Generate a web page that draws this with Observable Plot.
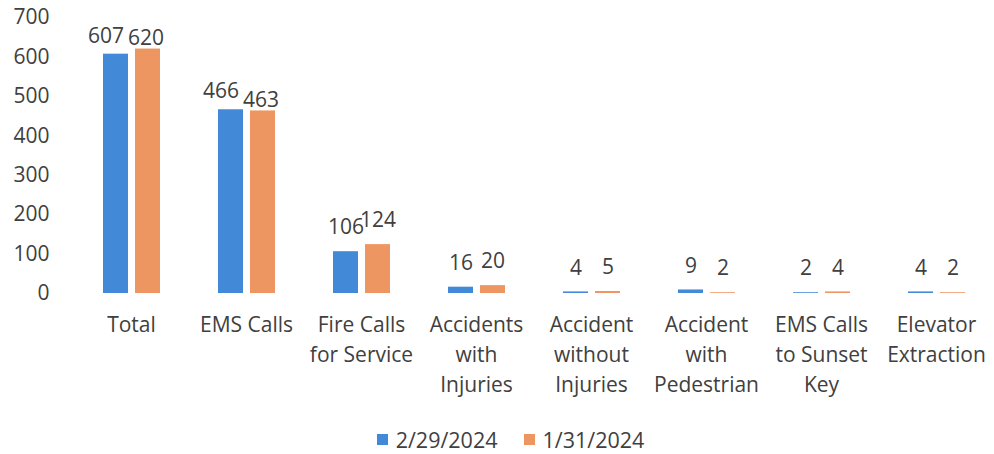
<!DOCTYPE html>
<html>
<head>
<meta charset="utf-8">
<script src="https://cdn.jsdelivr.net/npm/d3@7"></script>
<script src="https://cdn.jsdelivr.net/npm/@observablehq/plot@0.6"></script>
<style>
  html, body { margin: 0; padding: 0; background: #fff; }
  body { width: 994px; height: 454px; overflow: hidden; font-family: "Open Sans", Lato, sans-serif; color: #404040; }
  #chart svg { display: block; }
  #legend { display: flex; justify-content: center; align-items: center; gap: 26px; font-size: 21.5px; height: 36px; margin-left: 27px; margin-top: 11px; }
  #legend span.item { display: flex; align-items: center; }
  #legend span.sw { display: inline-block; width: 11px; height: 11px; margin-right: 8px; }
</style>
</head>
<body>
<div id="chart"></div>
<div id="legend"></div>
<script>
const categories = ["Total", "EMS Calls", "Fire Calls\nfor Service", "Accidents\nwith\nInjuries", "Accident\nwithout\nInjuries", "Accident\nwith\nPedestrian", "EMS Calls\nto Sunset\nKey", "Elevator\nExtraction"];
const seriesNames = ["2/29/2024", "1/31/2024"];
const feb2024 = [607, 466, 106, 16, 4, 9, 2, 4];
const jan2024 = [620, 463, 124, 20, 5, 2, 4, 2];
const seriesColors = ["#428ad8", "#ee9662"];
const yTicks = [0, 100, 200, 300, 400, 500, 600, 700];

const data = [];
categories.forEach((c, i) => {
  data.push({category: c, series: seriesNames[0], value: feb2024[i]});
  data.push({category: c, series: seriesNames[1], value: jan2024[i]});
});

const textColor = "#404040";
const font = "'Open Sans', Lato, sans-serif";
const big = d => d.value >= 300;
const labelOpts = {fx: "category", x: "series", y: "value", text: d => String(d.value), fontSize: 21, fill: textColor};
const chart = Plot.plot({
  width: 994,
  height: 410,
  marginLeft: 72,
  marginRight: 0,
  marginTop: 17,
  marginBottom: 117,
  style: {fontFamily: font, fontSize: "21px", color: textColor, background: "#fff"},
  fx: {domain: categories, paddingInner: 0.5, paddingOuter: 0.25, label: null},
  x: {domain: seriesNames, paddingInner: 0.22, paddingOuter: 0, axis: null},
  y: {domain: [0, 700], label: null},
  color: {domain: seriesNames, range: seriesColors},
  marks: [
    Plot.axisY({ticks: yTicks, tickSize: 0, tickPadding: 53, fontSize: 21, fill: textColor, label: null}),
    Plot.axisFx({anchor: "bottom", tickSize: 0, tickPadding: 17, fontSize: 21, lineHeight: 1.43, fill: textColor, label: null}),
    Plot.barY(data, {fx: "category", x: "series", y: "value", fill: "series"}),
    Plot.text(data.filter(d => !big(d)), {...labelOpts, dy: -24}),
    Plot.text(data.filter(d => big(d) && d.series === seriesNames[0]), {...labelOpts, dx: -10, dy: -18}),
    Plot.text(data.filter(d => big(d) && d.series === seriesNames[1]), {...labelOpts, dx: -2, dy: -11})
  ]
});
document.getElementById("chart").appendChild(chart);

const legend = document.getElementById("legend");
seriesNames.forEach((s, i) => {
  const item = document.createElement("span");
  item.className = "item";
  const sw = document.createElement("span");
  sw.className = "sw";
  sw.style.background = seriesColors[i];
  item.appendChild(sw);
  item.appendChild(document.createTextNode(s));
  legend.appendChild(item);
});
</script>
</body>
</html>
